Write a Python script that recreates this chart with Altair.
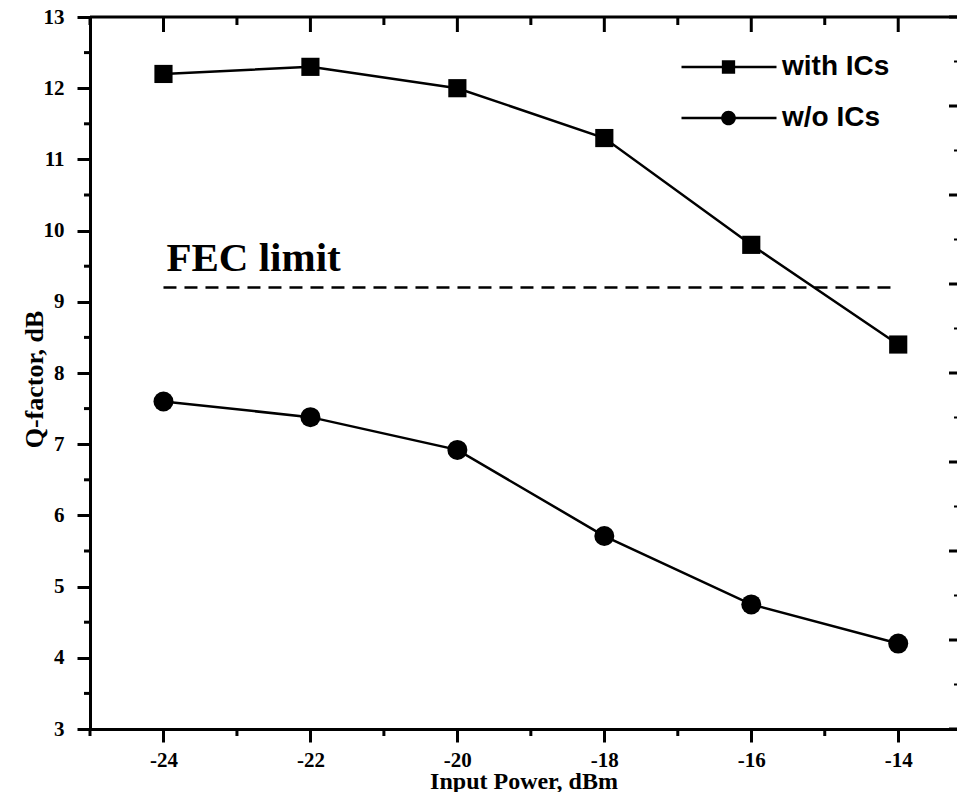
import altair as alt
import pandas as pd

# ---- data ----
input_power = [-24, -22, -20, -18, -16, -14]
q_with_ics = [12.2, 12.3, 12.0, 11.3, 9.8, 8.4]
q_without_ics = [7.6, 7.38, 6.92, 5.71, 4.75, 4.2]
series_names = ["with ICs", "w/o ICs"]
fec_limit = 9.2
fec_span = [-24, -14]
fec_label = "FEC limit"

x_major = [-24, -22, -20, -18, -16, -14]
x_minor = [-25, -23, -21, -19, -17, -15]
y_major = [3, 4, 5, 6, 7, 8, 9, 10, 11, 12, 13]
y_minor = [3.5, 4.5, 5.5, 6.5, 7.5, 8.5, 9.5, 10.5, 11.5, 12.5]
right_major = [0, 1, 2, 3, 4, 5, 6, 7, 8]
right_minor = [0.5, 1.5, 2.5, 3.5, 4.5, 5.5, 6.5, 7.5]

# ---- layout / style ----
W, H = 867, 712
SERIF = "Liberation Serif"
SANS = "Liberation Sans"

df = pd.DataFrame({
    "x": input_power * 2,
    "q": q_with_ics + q_without_ics,
    "series": [series_names[0]] * len(input_power) + [series_names[1]] * len(input_power),
})

xs = alt.Scale(domain=[-25, -13.2], nice=False, zero=False)
ys = alt.Scale(domain=[3, 13], nice=False, zero=False)

x_axis = alt.Axis(values=x_major, labelExpr="toString(datum.value)", tickSize=13, tickWidth=3,
                  tickColor="black", domainWidth=3, domainColor="black", grid=False,
                  labelFont=SERIF, labelFontWeight="bold", labelFontSize=21, labelColor="black",
                  labelPadding=7, title="Input Power, dBm", titleFont=SERIF, titleFontSize=24,
                  titleFontWeight="bold", titleColor="black", titleBaseline="alphabetic",
                  titleY=59)
y_axis = alt.Axis(values=y_major, labelExpr="toString(datum.value)", tickSize=13, tickWidth=3,
                  tickColor="black", domainWidth=3, domainColor="black", grid=False,
                  labelFont=SERIF, labelFontWeight="bold", labelFontSize=21, labelColor="black",
                  labelPadding=13, title="Q-factor, dB", titleFont=SERIF, titleFontSize=26,
                  titleFontWeight="bold", titleColor="black", titleBaseline="alphabetic",
                  titleAngle=270, titleX=-48, titleY=362)

X = alt.X("x:Q", scale=xs, axis=x_axis)
Y = alt.Y("q:Q", scale=ys, axis=y_axis)

base = alt.Chart(df)

lines = base.mark_line(color="black", strokeWidth=2.5).encode(x=X, y=Y, detail="series:N")

points = base.mark_point(filled=True, color="black", opacity=1).encode(
    x="x:Q", y="q:Q",
    shape=alt.Shape("series:N", scale=alt.Scale(domain=series_names, range=["square", "circle"]), legend=None),
    size=alt.Size("series:N", scale=alt.Scale(domain=series_names, range=[330, 400]), legend=None),
)

# legend: two overlaid legends -> line stubs (stroked) + filled markers
LEG_SIZE = 9025
line_path = "M-1,0H1"
sq = "M-0.14,-0.14H0.14V0.14H-0.14Z"
ci = "M-0.155,0A0.155,0.155 0 1 1 0.155,0A0.155,0.155 0 1 1 -0.155,0Z"
leg_common = dict(title=None, orient="none", legendX=590, legendY=35, padding=0,
                  symbolSize=LEG_SIZE, symbolOpacity=1, clipHeight=30, rowPadding=21,
                  labelOffset=4, labelFont=SANS, labelFontWeight="bold", labelFontSize=28,
                  labelColor="black", labelLimit=400)

legend_lines = base.mark_point(filled=False, color="black", strokeWidth=2.5, opacity=0,
                               size=LEG_SIZE).encode(
    x="x:Q", y="q:Q",
    shape=alt.Shape("series:N", scale=alt.Scale(domain=series_names, range=[line_path, line_path]),
                    legend=alt.Legend(symbolStrokeColor="black", symbolStrokeWidth=2.5,
                                      symbolFillColor="transparent", **leg_common)),
)
legend_marks = base.mark_point(filled=True, color="black", opacity=0, size=LEG_SIZE).encode(
    x="x:Q", y="q:Q",
    strokeDash=alt.StrokeDash("series:N",
                              scale=alt.Scale(domain=series_names, range=[[1, 0], [1, 0]]),
                              legend=None),
    shape=alt.Shape("series:N", scale=alt.Scale(domain=series_names, range=[sq, ci]),
                    legend=alt.Legend(symbolFillColor="black", labelOpacity=0, **leg_common)),
)

fec_df = pd.DataFrame({"x": [fec_span[0]], "x2": [fec_span[1]], "q": [fec_limit], "label": [fec_label]})
fec_rule = alt.Chart(fec_df).mark_rule(color="black", strokeWidth=2.5, strokeDash=[13, 8]).encode(
    x="x:Q", x2="x2:Q", y="q:Q")
fec_text = alt.Chart(fec_df).mark_text(font=SERIF, fontWeight="bold", fontSize=41, color="black",
                                       align="left", baseline="alphabetic", dx=3, dy=-17).encode(
    x="x:Q", y="q:Q", text="label:N")

# frame / tick decorations
top_line = alt.Chart(pd.DataFrame({"x": [0]})).mark_rule(color="black", strokeWidth=3).encode(
    x=alt.value(0), x2=alt.value(W), y=alt.value(0))
top_major = alt.Chart(pd.DataFrame({"x": x_major})).mark_rule(color="black", strokeWidth=3).encode(
    x="x:Q", y=alt.value(0), y2=alt.value(15))
top_minor = alt.Chart(pd.DataFrame({"x": x_minor})).mark_rule(color="black", strokeWidth=3).encode(
    x="x:Q", y=alt.value(0), y2=alt.value(8))
bottom_minor = alt.Chart(pd.DataFrame({"x": x_minor})).mark_rule(color="black", strokeWidth=3).encode(
    x="x:Q", y=alt.value(H), y2=alt.value(H + 7))
left_minor = alt.Chart(pd.DataFrame({"q": y_minor})).mark_rule(color="black", strokeWidth=3).encode(
    y="q:Q", x=alt.value(-6), x2=alt.value(0))

inner = alt.layer(lines, points, legend_lines, legend_marks, fec_rule, fec_text, top_line,
                  top_major, top_minor, bottom_minor, left_minor).resolve_scale(
    shape="independent", size="independent")

RY = alt.Y("r:Q", scale=alt.Scale(domain=[0, 8], nice=False, zero=False), axis=None)
right_maj = alt.Chart(pd.DataFrame({"r": right_major})).mark_rule(color="black", strokeWidth=3).encode(
    y=RY, x=alt.value(W - 8), x2=alt.value(W))
right_min = alt.Chart(pd.DataFrame({"r": right_minor})).mark_rule(color="black", strokeWidth=2).encode(
    y="r:Q", x=alt.value(W - 3), x2=alt.value(W))
right = alt.layer(right_maj, right_min)

chart = alt.layer(inner, right).resolve_scale(y="independent").properties(
    width=W, height=H,
    autosize=alt.AutoSizeParams(type="none"),
    padding={"left": 82, "top": 9, "right": 0, "bottom": 63},
).configure_view(stroke=None).configure(background="white")

chart.save("out.html", embed_options={"renderer": "svg", "actions": False})
